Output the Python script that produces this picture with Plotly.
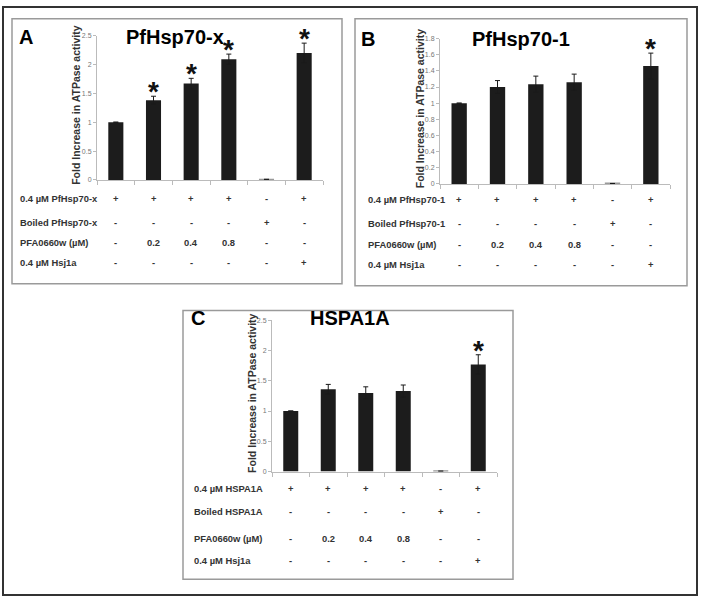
import plotly.graph_objects as go

W, H = 701, 603

# ---------------- data ----------------
conditions = ["1", "2", "3", "4", "5", "6"]

a_values = [1.0, 1.38, 1.67, 2.09, 0.01, 2.20]
a_errors = [None, 0.07, 0.09, 0.09, None, 0.17]
a_star = [False, True, True, True, False, True]

b_values = [1.0, 1.20, 1.235, 1.26, 0.005, 1.46]
b_errors = [None, 0.08, 0.10, 0.10, None, 0.16]
b_star = [False, False, False, False, False, True]

c_values = [1.0, 1.36, 1.30, 1.33, 0.005, 1.77]
c_errors = [None, 0.08, 0.10, 0.10, None, 0.16]
c_star = [False, False, False, False, False, True]

a_yticks = [0, 0.5, 1, 1.5, 2, 2.5]
a_yticklabels = ["0", "0.5", "1", "1.5", "2", "2.5"]
b_yticks = [0, 0.2, 0.4, 0.6, 0.8, 1.0, 1.2, 1.4, 1.6, 1.8]
b_yticklabels = ["0", "0.2", "0.4", "0.6", "0.8", "1", "1.2", "1.4", "1.6", "1.8"]
c_yticks = a_yticks
c_yticklabels = a_yticklabels

a_rows = ["0.4 µM PfHsp70-x", "Boiled PfHsp70-x", "PFA0660w (µM)", "0.4 µM Hsj1a"]
b_rows = ["0.4 µM PfHsp70-1", "Boiled PfHsp70-1", "PFA0660w (µM)", "0.4 µM Hsj1a"]
c_rows = ["0.4 µM HSPA1A", "Boiled HSPA1A", "PFA0660w (µM)", "0.4 µM Hsj1a"]
table_cells = [
    ["+", "+", "+", "+", "-", "+"],
    ["-", "-", "-", "-", "+", "-"],
    ["-", "0.2", "0.4", "0.8", "-", "-"],
    ["-", "-", "-", "-", "-", "+"],
]

y_title = "Fold Increase in ATPase activity"

# ---------------- layout helpers ----------------
def px(x):
    return x / W

def py(y):
    return 1 - y / H

FONT = "Liberation Sans, Arial, sans-serif"
BAR = "#1c1c1c"

panels = [
    dict(letter="A", title="PfHsp70-x", values=a_values, errors=a_errors, star=a_star,
         yticks=a_yticks, ylabels=a_yticklabels, yr=[0, 2.5], rows=a_rows,
         x0=97, x1=323, ytop=32, ybot=178, box=(12, 15, 342, 283),
         letter_xy=(17, 33), title_xy=(175, 33), ytitle_x=76,
         row_y=[197, 221, 241, 262], label_x=18),
    dict(letter="B", title="PfHsp70-1", values=b_values, errors=b_errors, star=b_star,
         yticks=b_yticks, ylabels=b_yticklabels, yr=[0, 1.8], rows=b_rows,
         x0=440, x1=670, ytop=35, ybot=182, box=(355, 15, 687, 285),
         letter_xy=(359, 35), title_xy=(521, 35), ytitle_x=420,
         row_y=[198, 222, 243, 264], label_x=366),
    dict(letter="C", title="HSPA1A", values=c_values, errors=c_errors, star=c_star,
         yticks=c_yticks, ylabels=c_yticklabels, yr=[0, 2.5], rows=c_rows,
         x0=272, x1=497, ytop=320, ybot=473, box=(183, 310, 513, 582),
         letter_xy=(189, 318), title_xy=(350, 318), ytitle_x=252,
         row_y=[490, 513, 541, 563], label_x=192),
]

fig = go.Figure()
annotations = []
shapes = []

# outer frame
shapes.append(dict(type="rect", xref="paper", yref="paper",
                   x0=px(3), x1=px(697), y0=py(598), y1=py(3),
                   line=dict(color="#333333", width=2)))

for k, p in enumerate(panels):
    sfx = "" if k == 0 else str(k + 1)
    xa = "x" + sfx
    ya = "y" + sfx
    colors = [BAR if v > 0.05 else "#999999" for v in p["values"]]
    fig.add_trace(go.Bar(
        x=list(range(len(conditions))), y=p["values"], width=0.4,
        marker=dict(color=colors, line=dict(width=0)),
        error_y=dict(type="data", array=p["errors"], symmetric=True,
                     color="#1a1a1a", thickness=1, width=2.5),
        xaxis=xa, yaxis=ya, showlegend=False, hoverinfo="skip",
    ))
    fig.layout["xaxis" + sfx] = dict(
        domain=[px(p["x0"]), px(p["x1"])], anchor=ya, range=[-0.5, 5.5],
        tickvals=[i - 0.5 for i in range(7)], showticklabels=False,
        ticks="outside", ticklen=4, tickcolor="#bbbbbb", showline=True,
        linecolor="#bbbbbb", linewidth=1, showgrid=False, zeroline=False,
        fixedrange=True)
    fig.layout["yaxis" + sfx] = dict(
        domain=[py(p["ybot"]), py(p["ytop"])], anchor=xa, range=p["yr"],
        tickvals=p["yticks"], ticktext=p["ylabels"],
        tickfont=dict(size=7, color="#777777", family=FONT),
        ticks="outside", ticklen=3, tickcolor="#bbbbbb", showline=True,
        linecolor="#bbbbbb", linewidth=1, showgrid=False, zeroline=False,
        fixedrange=True)

    # panel box
    bx0, by0, bx1, by1 = p["box"]
    shapes.append(dict(type="rect", xref="paper", yref="paper",
                       x0=px(bx0), x1=px(bx1), y0=py(by1), y1=py(by0),
                       line=dict(color="#9a9a9a", width=1.5)))

    # letter & title
    lx, ly = p["letter_xy"]
    annotations.append(dict(text="<b>" + p["letter"] + "</b>", x=px(lx), y=py(ly),
                            xref="paper", yref="paper", xanchor="left", yanchor="middle",
                            showarrow=False, font=dict(size=20, color="#000", family=FONT)))
    tx, ty = p["title_xy"]
    annotations.append(dict(text="<b>" + p["title"] + "</b>", x=px(tx), y=py(ty),
                            xref="paper", yref="paper", xanchor="center", yanchor="middle",
                            showarrow=False, font=dict(size=20, color="#000", family=FONT)))
    # y title
    annotations.append(dict(text="<b>" + y_title + "</b>", x=px(p["ytitle_x"]),
                            y=py((p["ytop"] + p["ybot"]) / 2 - 2),
                            xref="paper", yref="paper", xanchor="center", yanchor="middle",
                            textangle=-90, showarrow=False,
                            font=dict(size=10.5, color="#333333", family=FONT)))
    # stars
    for i, (v, e, s) in enumerate(zip(p["values"], p["errors"], p["star"])):
        if s:
            annotations.append(dict(text="<b>*</b>", x=i, y=v + (e or 0), xref=xa, yref=ya,
                                    xanchor="center", yanchor="bottom", yshift=-13,
                                    showarrow=False,
                                    font=dict(size=28, color="#111", family=FONT)))
    # table
    for r, (label, cells) in enumerate(zip(p["rows"], table_cells)):
        yy = py(p["row_y"][r])
        annotations.append(dict(text="<b>" + label + "</b>", x=px(p["label_x"]), y=yy,
                                xref="paper", yref="paper", xanchor="left", yanchor="middle",
                                showarrow=False,
                                font=dict(size=9.4, color="#333333", family=FONT)))
        for i, c in enumerate(cells):
            annotations.append(dict(text="<b>" + c + "</b>", x=i, y=yy,
                                    xref=xa, yref="paper", xanchor="center",
                                    yanchor="middle", showarrow=False,
                                    font=dict(size=9.4, color="#333333", family=FONT)))

fig.update_layout(
    width=W, height=H, margin=dict(l=0, r=0, t=0, b=0),
    paper_bgcolor="white", plot_bgcolor="white",
    annotations=annotations, shapes=shapes, bargap=0.6,
    font=dict(family=FONT),
)

fig.write_html("out.html", config={"displayModeBar": False},
               post_script="document.body.style.margin='0';document.body.style.overflow='hidden';")
